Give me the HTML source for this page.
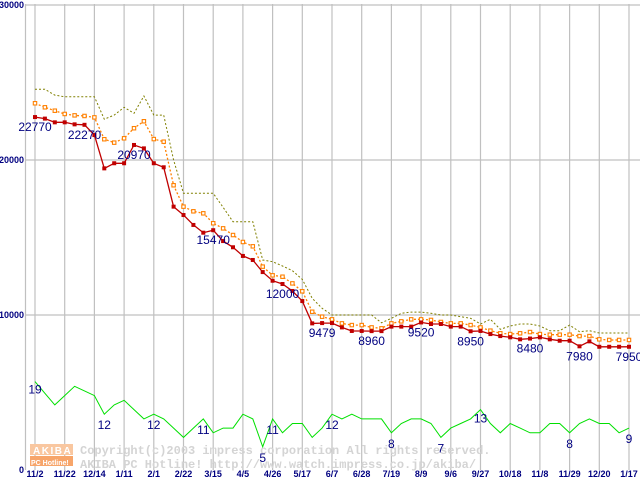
<!DOCTYPE html>
<html><head><meta charset="utf-8">
<style>
html,body{margin:0;padding:0;background:#fff;width:640px;height:480px;overflow:hidden}
svg{display:block}
.ax{font-family:"Liberation Sans",sans-serif;font-size:9px;font-weight:bold;fill:#000080}
.lbl{font-family:"Liberation Sans",sans-serif;font-size:12px;fill:#000080}
.wm{font-family:"Liberation Mono",monospace;font-size:12px;font-weight:bold;fill:#d4d4d4}
</style></head><body>
<svg id="chart" width="640" height="480" viewBox="0 0 640 480" xmlns="http://www.w3.org/2000/svg">
<g id="grid"></g>
<g id="watermark">
<rect x="30" y="444" width="43" height="11" fill="#f9c7a0"/>
<rect x="30" y="456" width="43" height="10" fill="#f7a56a"/>
<text x="33" y="454" font-family="Liberation Sans,sans-serif" font-size="10" font-weight="bold" fill="#fff" letter-spacing="1.5">AKIBA</text>
<text x="31" y="465" font-family="Liberation Sans,sans-serif" font-size="7" font-weight="bold" fill="#fff">PC Hotline!</text>
<text class="wm" x="80" y="454">Copyright(c)2003 impress corporation All rights reserved.</text>
<text class="wm" x="80" y="468">AKIBA PC Hotline!  http://www.watch.impress.co.jp/akiba/</text>
</g>
<g id="series"></g>
<g id="labels"></g>
</svg>
<script>
const xTickLabels=["11/2","11/22","12/14","1/11","2/1","2/22","3/15","4/5","4/26","5/17","6/7","6/28","7/19","8/9","9/6","9/27","10/18","11/8","11/29","12/20","1/17"];
const yTickValues=[0,10000,20000,30000];
const minPrice=[22770,22670,22430,22430,22300,22270,21610,19460,19790,19790,20970,20750,19790,19530,16990,16450,15810,15310,15470,14770,14370,13810,13550,12770,12210,12000,11550,10900,9460,9479,9480,9200,8970,8970,8960,8960,9250,9250,9250,9520,9420,9420,9250,9250,8950,8970,8770,8640,8560,8430,8480,8560,8430,8340,8340,7980,8300,7950,7950,7950,7950];
const avgPrice=[23660,23400,23180,22970,22880,22840,22750,21340,21120,21400,22050,22500,21350,21180,18370,16990,16690,16560,15920,15590,15160,14710,14430,13120,12560,12470,12040,11530,10210,9890,9720,9460,9350,9350,9200,9140,9460,9590,9720,9720,9680,9550,9460,9460,9350,9200,8990,8820,8770,8820,8900,8770,8730,8730,8730,8640,8640,8430,8390,8390,8390];
const maxPrice=[24560,24560,24190,24080,24080,24080,24080,22630,22900,23400,23010,24130,22900,22900,20000,17850,17850,17850,17850,16950,16020,16020,16020,13550,13440,13160,12860,12300,11080,10430,10000,10000,10000,10000,10000,9500,9790,10110,10190,10190,10110,10000,10000,9890,9790,9420,9720,9080,9290,9420,9420,9290,8990,8990,9350,8920,8990,8840,8840,8840,8840];
const shopCount=[19,16.5,14,16,18,17,16,12,14,15,13,11,12,11,9,7,9,11,8,9,9,12,11,5,11,8,10,10,7,9,12,11,12,11,11,11,8,10,11,11,10,7,9,10,11,13,10,8,10,9,8,8,10,10,8,10,11,10,10,8,9];
const priceLabelIdx=[0,5,10,18,25,29,34,39,44,50,55,60];
const countLabelIdx=[0,7,12,17,23,24,30,36,41,45,54,60];

const NS="http://www.w3.org/2000/svg";
const X0=35, DX=9.9, Y0=470, PY=0.0155, CY=4.65;
function xAt(i){return X0+i*DX;}
function yP(v){return Y0-v*PY;}
function yC(c){return Y0-c*CY;}
function mk(tag,attrs,parent){const e=document.createElementNS(NS,tag);for(const k in attrs)e.setAttribute(k,attrs[k]);parent.appendChild(e);return e;}
const grid=document.getElementById('grid'),series=document.getElementById('series'),labels=document.getElementById('labels');

yTickValues.forEach(v=>{
  const y=yP(v);
  if(v>0){const l=mk('line',{x1:25.5,x2:640,y1:y,y2:y,stroke:'#c0c0c0','stroke-width':1.2},grid);
  
  }
  const t=mk('text',{x:24,y:y+3,'text-anchor':'end',class:'ax'},grid);t.textContent=String(v);
  
  
});
const ax=mk('line',{x1:25.5,x2:25.5,y1:4,y2:470,stroke:'#c0c0c0','stroke-width':1.2},grid);


xTickLabels.forEach((s,k)=>{
  const x=xAt(k*3);
  const l=mk('line',{x1:x,x2:x,y1:4,y2:470,stroke:'#c0c0c0','stroke-width':1.2},grid);
  
  
  const t=mk('text',{x:x,y:477,'text-anchor':'middle',class:'ax'},grid);t.textContent=s;
  
  
});

function pts(arr,f){return arr.map((v,i)=>xAt(i).toFixed(1)+','+f(v).toFixed(1)).join(' ');}
const gl=mk('polyline',{points:pts(shopCount,yC),fill:'none',stroke:'#00e000','stroke-width':1},series);


const ml=mk('polyline',{points:pts(maxPrice,yP),fill:'none',stroke:'#808000','stroke-width':1,'stroke-dasharray':'2,2'},series);


const al=mk('polyline',{points:pts(avgPrice,yP),fill:'none',stroke:'#ff8000','stroke-width':1.3,'stroke-dasharray':'2,2'},series);


avgPrice.forEach((v,i)=>{
  const r=mk('rect',{x:xAt(i)-1.7,y:yP(v)-1.7,width:3.4,height:3.4,fill:'#fff',stroke:'#ff8000','stroke-width':1.1},series);
  
  
});
const rl=mk('polyline',{points:pts(minPrice,yP),fill:'none',stroke:'#c00000','stroke-width':1.3},series);


minPrice.forEach((v,i)=>{
  const r=mk('rect',{x:xAt(i)-2,y:yP(v)-2,width:4,height:4,fill:'#c00000'},series);
  
  
});
priceLabelIdx.forEach(i=>{
  const t=mk('text',{x:xAt(i),y:yP(minPrice[i])+14,'text-anchor':'middle',class:'lbl'},labels);
  t.textContent=String(minPrice[i]);
  
  
});
countLabelIdx.forEach(i=>{
  const c=shopCount[i];
  const t=mk('text',{x:xAt(i),y:yC(c)+(i===0?12:(i===45?13:15)),'text-anchor':'middle',class:'lbl'},labels);
  t.textContent=String(c);
  
  
});
</script>
</body></html>
